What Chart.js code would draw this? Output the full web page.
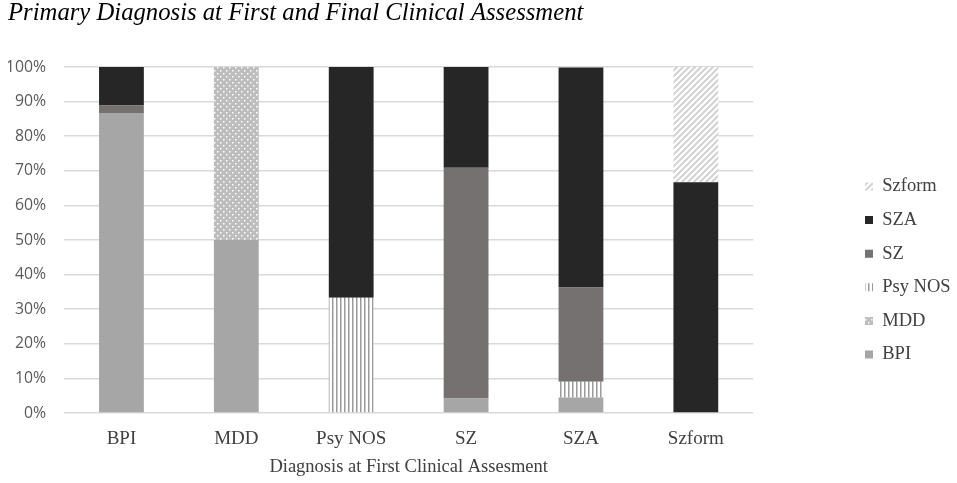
<!DOCTYPE html>
<html>
<head>
<meta charset="utf-8">
<script src="https://cdn.jsdelivr.net/npm/chart.js@4"></script>
<style>
  html, body { margin:0; padding:0; background:#fff; }
  #wrap { width:957px; height:483px; position:relative; }
</style>
</head>
<body>
<div id="wrap"><canvas id="chart"></canvas></div>
<script>
const categories = ["BPI", "MDD", "Psy NOS", "SZ", "SZA", "Szform"];
const bpi    = [86.7, 50, 0,    4.2,  4.5,  0];
const mdd    = [0,    50, 0,    0,    0,    0];
const psyNos = [0,    0,  33.3, 0,    4.5,  0];
const sz     = [2.2,  0,  0,    66.7, 27.3, 0];
const sza    = [11.1, 0,  66.7, 29.2, 63.6, 66.7];
const szform = [0,    0,  0,    0,    0,    33.3];
const yTicks = [0, 10, 20, 30, 40, 50, 60, 70, 80, 90, 100];

const SERIF = "'Liberation Serif', 'Times New Roman', serif";

/* ================= PATTERNS ================= */
function makePattern(size, paint){
  const c = document.createElement("canvas");
  c.width = size; c.height = size;
  const p = c.getContext("2d");
  paint(p, size);
  return p.createPattern(c, "repeat");
}

// dotted (MDD)
const dots = makePattern(6, (p, s) => {
  p.fillStyle = "#bdbdbd";
  p.fillRect(0, 0, s, s);
  p.fillStyle = "#ffffff";
  p.fillRect(1, 1, 1.5, 1.5);
  p.fillRect(4, 4, 1.5, 1.5);
});

// vertical stripes (Psy NOS)
const vlines = makePattern(4, (p, s) => {
  p.fillStyle = "#ffffff";
  p.fillRect(0, 0, s, s);
  p.fillStyle = "#9a9a9a";
  p.fillRect(0, 0, 1.5, s);
});

// diagonal stripes (Szform)
const diag = makePattern(6, (p, s) => {
  p.fillStyle = "#ffffff";
  p.fillRect(0, 0, s, s);
  p.strokeStyle = "#d2d2d2";
  p.lineWidth = 2;
  p.beginPath();
  p.moveTo(-1, s + 1); p.lineTo(s + 1, -1);
  p.moveTo(-1, 1); p.lineTo(1, -1);
  p.moveTo(s - 1, s + 1); p.lineTo(s + 1, s - 1);
  p.stroke();
});

/* ================= LEGEND PLACEMENT ================= */
const legendShift = {
  id: "legendShift",
  afterLayout(chart){
    const lg = chart.legend;
    if(!lg) return;
    const dx = 865 - 15.1 - lg.left;
    lg.left += dx; lg.right += dx;
    lg.top += 29; lg.bottom += 29;
  }
};

const ctx = document.getElementById("chart").getContext("2d");

new Chart(ctx, {
  type: "bar",
  data: {
    labels: categories,
    datasets: [
      { label: "BPI",     data: bpi,    backgroundColor: "#a6a6a6" },
      { label: "MDD",     data: mdd,    backgroundColor: dots },
      { label: "Psy NOS", data: psyNos, backgroundColor: vlines },
      { label: "SZ",      data: sz,     backgroundColor: "#767171" },
      { label: "SZA",     data: sza,    backgroundColor: "#262626" },
      { label: "Szform",  data: szform, backgroundColor: diag }
    ]
  },
  options: {
    responsive: true,
    maintainAspectRatio: false,
    animation: false,
    categoryPercentage: 1,
    barPercentage: 0.39,
    layout: { padding: { left: 8, right: 93, top: 0, bottom: 0 } },
    plugins: {
      tooltip: { enabled: false },
      title: {
        display: true,
        text: "Primary Diagnosis at First and Final Clinical Assessment",
        align: "start",
        color: "#000000",
        font: { family: SERIF, size: 24.7, style: "italic", weight: "normal" },
        padding: { top: -1, bottom: 38.4 }
      },
      legend: {
        position: "right",
        reverse: true,
        labels: {
          boxWidth: 8,
          boxHeight: 8,
          padding: 15.1,
          color: "#404040",
          font: { family: SERIF, size: 18.5 }
        }
      }
    },
    scales: {
      x: {
        stacked: true,
        afterFit: s => { s.height = 70; },
        grid: { display: false, drawTicks: false },
        border: { display: false },
        ticks: {
          padding: 15,
          color: "#404040",
          font: { family: SERIF, size: 19 }
        },
        title: {
          display: true,
          text: "Diagnosis at First Clinical Assesment",
          color: "#404040",
          font: { family: SERIF, size: 18.5 },
          padding: { top: 0, bottom: 5 }
        }
      },
      y: {
        stacked: true,
        min: 0,
        max: 100,
        afterFit: s => { s.width = 56; },
        afterBuildTicks: s => { s.ticks = yTicks.map(v => ({ value: v })); },
        grid: { color: "#d9d9d9", lineWidth: 1.5, drawTicks: false },
        border: { display: false },
        ticks: {
          padding: 18,
          color: "#595959",
          font: { family: "'Open Sans', sans-serif", size: 15.8 },
          callback: v => v + "%"
        }
      }
    }
  },
  plugins: [legendShift]
});
</script>
</body>
</html>
